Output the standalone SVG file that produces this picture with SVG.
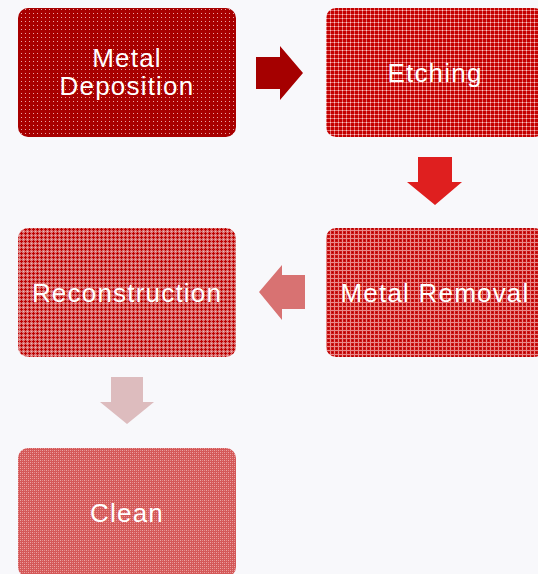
<svg xmlns="http://www.w3.org/2000/svg" width="538" height="574" viewBox="0 0 538 574">
<style>
.lbl{font-family:"Liberation Sans",Arial,sans-serif;font-size:26px;fill:#ffffff;text-anchor:middle;letter-spacing:1.2px}
</style>
<defs>
<pattern id="p1" patternUnits="userSpaceOnUse" x="0" y="0" width="4" height="4">
<rect width="4" height="4" fill="#A80000"/>
<rect x="1" y="1" width="1" height="1" fill="#EBA8A8"/>
</pattern>
<pattern id="p2" patternUnits="userSpaceOnUse" x="0" y="0" width="4" height="4">
<rect width="4" height="4" fill="#C40000"/>
<rect x="0" y="2" width="4" height="1" fill="#E26A6A"/>
<rect x="2" y="0" width="1" height="4" fill="#E26A6A"/>
<rect x="2" y="2" width="1" height="1" fill="#F6D0D0"/>
</pattern>
<pattern id="p3" patternUnits="userSpaceOnUse" x="0" y="0" width="4" height="4">
<rect width="4" height="4" fill="#CC1414"/>
<rect x="0" y="2" width="4" height="1" fill="#E88A8A"/>
<rect x="2" y="0" width="1" height="4" fill="#E88A8A"/>
<rect x="0" y="0" width="1" height="1" fill="#A80000"/>
</pattern>
<pattern id="p4" patternUnits="userSpaceOnUse" x="0" y="0" width="4" height="4">
<rect width="4" height="4" fill="#DA7070"/>
<rect x="1" y="0" width="1" height="3" fill="#BE0000"/>
<rect x="0" y="1" width="3" height="1" fill="#BE0000"/>
<rect x="3" y="3" width="1" height="1" fill="#EEB8B8"/>
</pattern>
<pattern id="p5" patternUnits="userSpaceOnUse" x="0" y="0" width="4" height="4">
<rect width="4" height="4" fill="#D45858"/>
<rect x="0" y="0" width="1" height="1" fill="#ECA4A4"/>
<rect x="2" y="2" width="1" height="1" fill="#ECA4A4"/>
<rect x="2" y="0" width="1" height="1" fill="#E38A8A"/>
<rect x="0" y="2" width="1" height="1" fill="#E38A8A"/>
</pattern>
</defs>
<rect width="538" height="574" fill="#F8F8FB"/>
<g id="connectors">
<polygon points="256,57 280,57 280,46 303,73 280,100 280,89 256,89" fill="#A50000"/>
<polygon points="418,157 452,157 452,182 462,182 435,205 407,182 418,182" fill="#DF1F1F"/>
<polygon points="305,275 282,275 282,265 259,292 282,320 282,309 305,309" fill="#D87272"/>
<polygon points="111,377 143,377 143,402 154,402 127,424 100,402 111,402" fill="#DDBCBE"/>
</g>
<g id="node-metal-deposition">
<rect x="18" y="8" width="218" height="129" rx="10" fill="url(#p1)"/>
<text class="lbl" x="127" y="67">Metal</text>
<text class="lbl" x="127" y="95">Deposition</text>
</g>
<g id="node-etching">
<rect x="326" y="8" width="218" height="129" rx="10" fill="url(#p2)"/>
<text class="lbl" x="435" y="82">Etching</text>
</g>
<g id="node-metal-removal">
<rect x="326" y="228" width="218" height="129" rx="10" fill="url(#p3)"/>
<text class="lbl" x="435" y="302">Metal Removal</text>
</g>
<g id="node-reconstruction">
<rect x="18" y="228" width="218" height="129" rx="10" fill="url(#p4)"/>
<text class="lbl" x="127" y="302">Reconstruction</text>
</g>
<g id="node-clean">
<rect x="18" y="448" width="218" height="129" rx="10" fill="url(#p5)"/>
<text class="lbl" x="127" y="522">Clean</text>
</g>
</svg>
